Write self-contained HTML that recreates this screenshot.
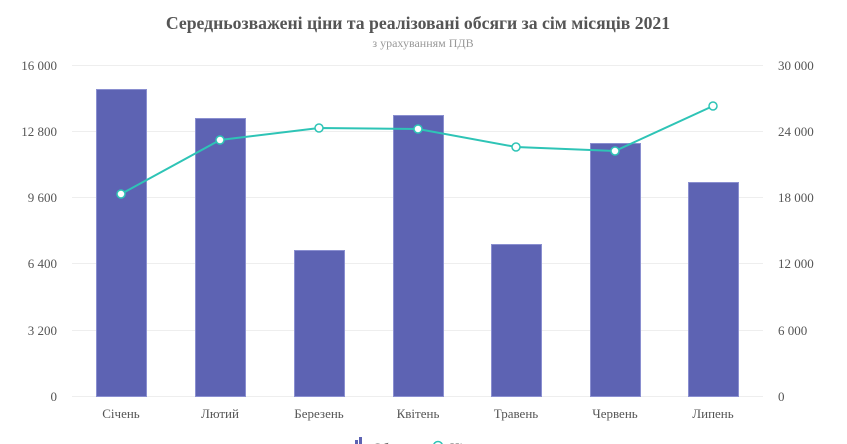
<!DOCTYPE html>
<html><head><meta charset="utf-8"><style>
html,body{margin:0;padding:0;background:#fff;width:847px;height:444px;overflow:hidden}
svg text{font-family:"Liberation Serif",serif}
</style></head><body>
<svg width="847" height="444" xmlns="http://www.w3.org/2000/svg">
<text x="418" y="29" text-anchor="middle" font-size="17.7" font-weight="bold" fill="#555">Середньозважені ціни та реалізовані обсяги за сім місяців 2021</text>
<text x="423" y="47" text-anchor="middle" font-size="12" fill="#999">з урахуванням ПДВ</text>
<g stroke="#eee" stroke-width="1">
<line x1="72" x2="763" y1="65.5" y2="65.5"/>
<line x1="72" x2="763" y1="131.5" y2="131.5"/>
<line x1="72" x2="763" y1="197.5" y2="197.5"/>
<line x1="72" x2="763" y1="263.5" y2="263.5"/>
<line x1="72" x2="763" y1="330.5" y2="330.5"/>
<line x1="72" x2="763" y1="396.5" y2="396.5"/>
</g>
<g font-size="13" fill="#555" text-anchor="end">
<text x="57" y="70">16 000</text><text x="57" y="136">12 800</text><text x="57" y="202">9 600</text>
<text x="57" y="268">6 400</text><text x="57" y="335">3 200</text><text x="57" y="401">0</text>
</g>
<g font-size="13" fill="#555" text-anchor="start">
<text x="778" y="70">30 000</text><text x="778" y="136">24 000</text><text x="778" y="202">18 000</text>
<text x="778" y="268">12 000</text><text x="778" y="335">6 000</text><text x="778" y="401">0</text>
</g>
<g fill="#5d63b3" stroke="#8a8fd0" stroke-width="1">
<rect x="96.5" y="89.5" width="50" height="307"/>
<rect x="195.5" y="118.5" width="50" height="278"/>
<rect x="294.5" y="250.5" width="50" height="146"/>
<rect x="393.5" y="115.5" width="50" height="281"/>
<rect x="491.5" y="244.5" width="50" height="152"/>
<rect x="590.5" y="143.5" width="50" height="253"/>
<rect x="688.5" y="182.5" width="50" height="214"/>
</g>
<polyline fill="none" stroke="#2ec4b6" stroke-width="2" points="121,194 220,140 319,128 418,129 516,147 615,151 713,106"/>
<g fill="#fff" stroke="#2ec4b6" stroke-width="1.5">
<circle cx="121" cy="194" r="4"/><circle cx="220" cy="140" r="4"/><circle cx="319" cy="128" r="4"/>
<circle cx="418" cy="129" r="4"/><circle cx="516" cy="147" r="4"/><circle cx="615" cy="151" r="4"/><circle cx="713" cy="106" r="4"/>
</g>
<g font-size="13" fill="#555" text-anchor="middle">
<text x="121" y="418">Січень</text><text x="220" y="418">Лютий</text><text x="319" y="418">Березень</text>
<text x="418" y="418">Квітень</text><text x="516" y="418">Травень</text><text x="615" y="418">Червень</text><text x="713" y="418">Липень</text>
</g>
<rect x="355" y="440" width="3" height="6" fill="#5d63b3"/><rect x="359" y="437" width="3" height="9" fill="#5d63b3"/>
<text x="373" y="452" font-size="13" fill="#555">Обсяг</text>
<circle cx="438" cy="446" r="4.5" fill="#fff" stroke="#2ec4b6" stroke-width="1.5"/>
<text x="450" y="452" font-size="13" fill="#555">Ціна</text>
</svg>
</body></html>
